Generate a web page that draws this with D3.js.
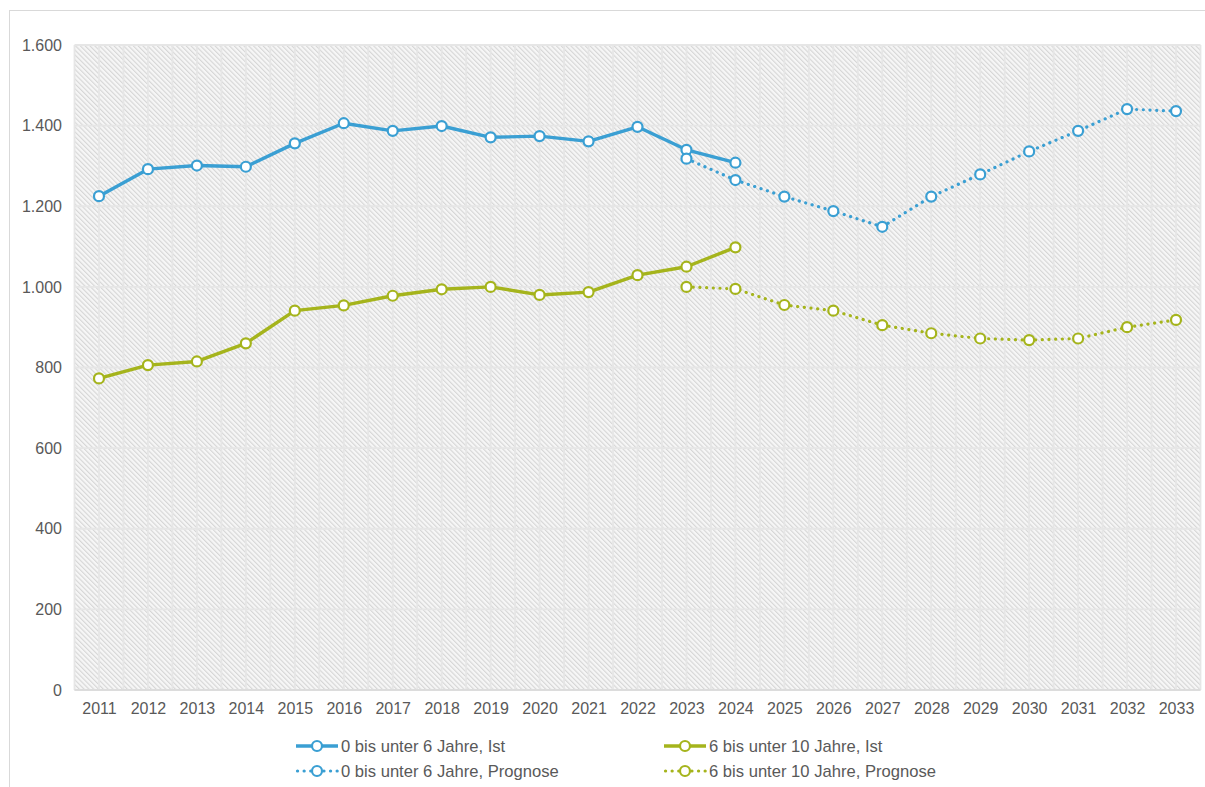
<!DOCTYPE html>
<html>
<head>
<meta charset="utf-8">
<script src="https://cdn.jsdelivr.net/npm/d3@7"></script>
<style>
  html, body { margin: 0; padding: 0; background: #ffffff; }
  svg { display: block; }
  text { font-family: "Liberation Sans", Arial, sans-serif; fill: #595959; }
</style>
</head>
<body>
<svg id="chart" width="1205" height="787"></svg>
<script>
// ---- Data ----
const years = ["2011","2012","2013","2014","2015","2016","2017","2018","2019","2020","2021","2022","2023","2024","2025","2026","2027","2028","2029","2030","2031","2032","2033"];
const yTicks = [0, 200, 400, 600, 800, 1000, 1200, 1400, 1600];

const u6IstYears = ["2011","2012","2013","2014","2015","2016","2017","2018","2019","2020","2021","2022","2023","2024"];
const u6Ist = [1225, 1292, 1301, 1298, 1356, 1406, 1387, 1399, 1371, 1374, 1361, 1397, 1340, 1308];

const u6PrognoseYears = ["2023","2024","2025","2026","2027","2028","2029","2030","2031","2032","2033"];
const u6Prognose = [1318, 1265, 1224, 1188, 1149, 1224, 1279, 1336, 1387, 1441, 1436];

const u10IstYears = ["2011","2012","2013","2014","2015","2016","2017","2018","2019","2020","2021","2022","2023","2024"];
const u10Ist = [773, 806, 815, 860, 941, 954, 978, 994, 1000, 980, 987, 1029, 1050, 1098];

const u10PrognoseYears = ["2023","2024","2025","2026","2027","2028","2029","2030","2031","2032","2033"];
const u10Prognose = [1000, 995, 955, 941, 905, 885, 872, 868, 872, 900, 918];

const seriesNames = ["0 bis unter 6 Jahre, Ist", "6 bis unter 10 Jahre, Ist", "0 bis unter 6 Jahre, Prognose", "6 bis unter 10 Jahre, Prognose"];

// ---- Build ----
const BLUE = "#3a9fd3";
const GREEN = "#a5b41c";

const series = [
  { name: seriesNames[0], xs: u6IstYears, vs: u6Ist, color: BLUE, dotted: false },
  { name: seriesNames[2], xs: u6PrognoseYears, vs: u6Prognose, color: BLUE, dotted: true },
  { name: seriesNames[1], xs: u10IstYears, vs: u10Ist, color: GREEN, dotted: false },
  { name: seriesNames[3], xs: u10PrognoseYears, vs: u10Prognose, color: GREEN, dotted: true }
];

const svg = d3.select("#chart");
const margin = { left: 74.5, right: 1200.5, top: 45, bottom: 690 };

const x = d3.scalePoint().domain(years).range([margin.left, margin.right]).padding(0.5);
const y = d3.scaleLinear().domain([0, 1600]).range([margin.bottom, margin.top]);

// outer frame
svg.append("rect")
  .attr("x", 9.5).attr("y", 10.5).attr("width", 1210).attr("height", 800)
  .attr("fill", "none").attr("stroke", "#d9d9d9").attr("stroke-width", 1);

// hatch pattern
const defs = svg.append("defs");
const pat = defs.append("pattern")
  .attr("id", "hatch").attr("patternUnits", "userSpaceOnUse")
  .attr("width", 3.4).attr("height", 3.4)
  .attr("patternTransform", "rotate(-45)");
pat.append("rect").attr("width", 3.4).attr("height", 3.4).attr("fill", "#f6f6f6");
pat.append("line").attr("x1", 0.6).attr("y1", 0).attr("x2", 0.6).attr("y2", 3.4)
  .attr("stroke", "#d2d2d2").attr("stroke-width", 1);

svg.append("rect")
  .attr("x", margin.left).attr("y", margin.top)
  .attr("width", margin.right - margin.left).attr("height", margin.bottom - margin.top)
  .attr("fill", "url(#hatch)");

// gridlines: vertical at category centers and boundaries
const step = x.step();
const vPositions = [];
years.forEach(yr => { vPositions.push(x(yr) - step / 2); vPositions.push(x(yr)); });
vPositions.push(x(years[years.length - 1]) + step / 2);

svg.append("g").selectAll("line").data(vPositions).join("line")
  .attr("x1", d => d).attr("x2", d => d)
  .attr("y1", margin.top).attr("y2", margin.bottom)
  .attr("stroke", "#e6e6e6").attr("stroke-width", 1.8);

svg.append("g").selectAll("line").data(yTicks).join("line")
  .attr("x1", margin.left).attr("x2", margin.right)
  .attr("y1", d => y(d)).attr("y2", d => y(d))
  .attr("stroke", "#e6e6e6").attr("stroke-width", 1.8);

// x axis baseline
svg.append("line")
  .attr("x1", margin.left).attr("x2", margin.right)
  .attr("y1", y(0)).attr("y2", y(0))
  .attr("stroke", "#d9d9d9").attr("stroke-width", 1.5);

// y axis
const fmt = d3.formatLocale({ decimal: ",", thousands: ".", grouping: [3], currency: ["", "€"] }).format(",.0f");
const yAxis = d3.axisLeft(y).tickValues(yTicks).tickFormat(fmt).tickSize(0).tickPadding(0);
const gy = svg.append("g").attr("transform", `translate(62,0)`).call(yAxis);
gy.select(".domain").remove();
gy.selectAll("text").attr("font-size", 16).attr("fill", "#595959")
  .attr("font-family", "'Liberation Sans', Arial, sans-serif");

// x axis
const xAxis = d3.axisBottom(x).tickSize(0).tickPadding(0);
const gx = svg.append("g").attr("transform", `translate(0,${y(0) + 13})`).call(xAxis);
gx.select(".domain").remove();
gx.selectAll("text").attr("font-size", 16).attr("fill", "#595959")
  .attr("font-family", "'Liberation Sans', Arial, sans-serif");

// lines
const lineGen = d3.line().x(d => x(d[0])).y(d => y(d[1]));
series.forEach(s => {
  const pts = s.xs.map((xv, i) => [xv, s.vs[i]]);
  svg.append("path")
    .datum(pts)
    .attr("d", lineGen)
    .attr("fill", "none")
    .attr("stroke", s.color)
    .attr("stroke-width", s.dotted ? 3.2 : 3.4)
    .attr("stroke-linecap", s.dotted ? "round" : "butt")
    .attr("stroke-linejoin", "round")
    .attr("stroke-dasharray", s.dotted ? "0.1,6.6" : null);
});
series.forEach(s => {
  const pts = s.xs.map((xv, i) => [xv, s.vs[i]]);
  svg.append("g").selectAll("circle").data(pts).join("circle")
    .attr("cx", d => x(d[0])).attr("cy", d => y(d[1]))
    .attr("r", 5)
    .attr("fill", "#ffffff")
    .attr("stroke", s.color)
    .attr("stroke-width", 2.2);
});

// legend
const legendItems = [
  { s: series[0], lx: 296, ly: 746 },
  { s: series[2], lx: 664, ly: 746 },
  { s: series[1], lx: 296, ly: 771 },
  { s: series[3], lx: 664, ly: 771 }
];
legendItems.forEach(it => {
  const g = svg.append("g");
  g.append("line")
    .attr("x1", it.lx + (it.s.dotted ? 1.5 : 0)).attr("x2", it.lx + 42)
    .attr("y1", it.ly).attr("y2", it.ly)
    .attr("stroke", it.s.color)
    .attr("stroke-width", it.s.dotted ? 3.2 : 3.4)
    .attr("stroke-linecap", it.s.dotted ? "round" : "butt")
    .attr("stroke-dasharray", it.s.dotted ? "0.1,6.5" : null);
  g.append("circle")
    .attr("cx", it.lx + 21).attr("cy", it.ly).attr("r", 5)
    .attr("fill", "#fff").attr("stroke", it.s.color).attr("stroke-width", 2.2);
  g.append("text")
    .attr("x", it.lx + 45).attr("y", it.ly)
    .attr("dy", "0.35em")
    .attr("font-size", 16.6)
    .text(it.s.name);
});
</script>
</body>
</html>
